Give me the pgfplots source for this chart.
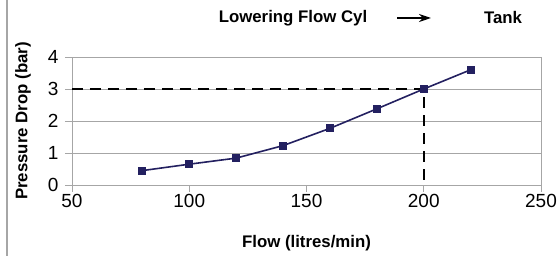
\documentclass[border=0pt]{standalone}
\usepackage{fontspec}
\setmainfont{Liberation Sans}
\usepackage{pgfplots}
\pgfplotsset{compat=1.18}
\usetikzlibrary{arrows.meta}
\definecolor{navy}{HTML}{232060}
\definecolor{gridgray}{HTML}{A6A6A6}
\begin{document}
\begin{tikzpicture}[x=1pt,y=1pt]
\useasboundingbox (0,0) rectangle (558,256);
\draw[gridgray, line width=1.2pt] (7,0) -- (7,256);
\begin{axis}[
  at={(72pt,71pt)}, anchor=south west,
  scale only axis, width=469pt, height=128pt,
  xmin=50, xmax=250, ymin=0, ymax=4,
  xtick={50,100,150,200,250}, ytick={0,1,2,3,4},
  xtick pos=bottom, ytick pos=left,
  tick align=outside, major tick length=7pt,
  ymajorgrids, grid style={gridgray, line width=0.8pt},
  axis line style={gridgray, line width=0.8pt},
  tick style={gridgray, line width=0.8pt},
  /pgf/number format/assume math mode=true,
  ticklabel style={font=\fontsize{19}{21}\selectfont, text=black},
  xticklabel style={yshift=1pt},
  yticklabel style={xshift=-3pt},
  xlabel={Flow (litres/min)},
  ylabel={Pressure Drop (bar)},
  label style={font=\bfseries\fontsize{16.8}{20}\selectfont},
  xlabel style={at={(rel axis cs:0.5,-0.453)}, anchor=center},
  ylabel style={at={(rel axis cs:-0.1045,0.5)}, anchor=center},
  clip=false,
]
\addplot[black, line width=2pt, dash pattern=on 11pt off 7pt] coordinates {(50,3) (200,3) (200,0)};
\addplot[navy, line width=1.6pt, mark=square*, mark size=3.2pt, mark options={fill=navy, solid}] coordinates {
 (80,0.45) (100,0.65) (120,0.84) (140,1.23) (160,1.77) (180,2.38) (200,3.0) (220,3.6)};
\end{axis}
\node[font=\bfseries\fontsize{16.8}{20}\selectfont] at (293,238) {Lowering Flow Cyl};
\draw[-{Stealth[length=12pt,width=8pt]}, line width=1.8pt] (397,238) -- (431,238);
\node[font=\bfseries\fontsize{16.8}{20}\selectfont] at (503,238) {Tank};
\end{tikzpicture}
\end{document}
